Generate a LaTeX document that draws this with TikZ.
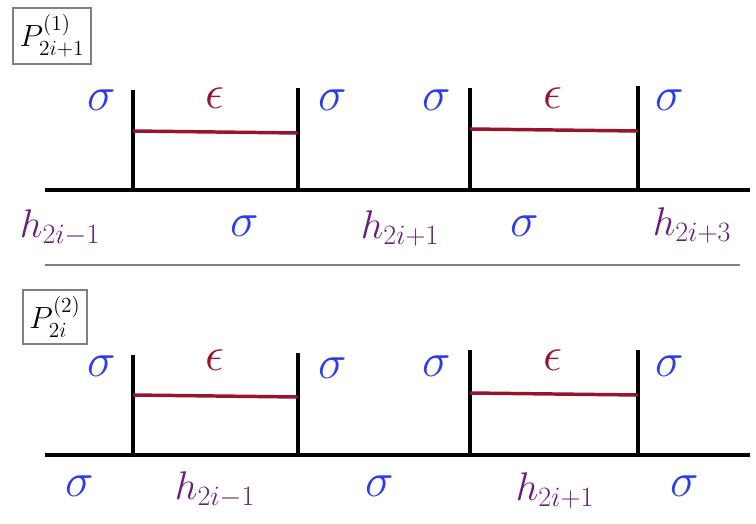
\documentclass[tikz,border=0pt]{standalone}
\usepackage{fix-cm}
\usepackage{amsmath}
\usepackage{xcolor}
\usetikzlibrary{arrows.meta}
\definecolor{sigblue}{RGB}{45,60,235}
\definecolor{epsred}{RGB}{150,20,45}
\definecolor{hpurple}{RGB}{105,30,125}
\tikzset{
  sig/.style={text=sigblue, font=\fontsize{36}{40}\selectfont},
  eps/.style={text=epsred, font=\fontsize{36}{40}\selectfont},
  hlab/.style={text=hpurple, font=\fontsize{30}{34}\selectfont},
  pbox/.style={draw=gray, line width=1.8pt, inner sep=5pt, font=\fontsize{23}{27}\selectfont},
  wall/.style={line width=3pt},
  bond/.style={epsred, line width=2.6pt}
}
\begin{document}
\begin{tikzpicture}[x=0.75pt, y=-0.75pt]
    \useasboundingbox (0,0) rectangle (756,524);
    % upper row
    \node[pbox] (p1) at (52,36) {$P^{(1)}_{2i+1}$};
    \coordinate (u0) at (45,190);
    \coordinate (u1) at (750,190);
    \draw[wall] (u0) -- (u1);
    \coordinate (ua) at (133,190); \coordinate (uat) at (133,90);
    \coordinate (ub) at (298,190); \coordinate (ubt) at (298,88);
    \coordinate (uc) at (470,190); \coordinate (uct) at (470,88);
    \coordinate (ud) at (638,190); \coordinate (udt) at (638,86);
    \draw[wall] (ua) -- (uat);
    \draw[wall] (ub) -- (ubt);
    \draw[wall] (uc) -- (uct);
    \draw[wall] (ud) -- (udt);
    \coordinate (ue1) at (133,131); \coordinate (ue2) at (298,133);
    \coordinate (ue3) at (470,129); \coordinate (ue4) at (638,131);
    \draw[bond] (ue1) -- (ue2);
    \draw[bond] (ue3) -- (ue4);
    \node[sig] (us1) at (102,100) {$\sigma$};
    \node[eps] (ue1l) at (215,98) {$\epsilon$};
    \node[sig] (us2) at (333,100) {$\sigma$};
    \node[sig] (us3) at (437,100) {$\sigma$};
    \node[eps] (ue2l) at (553,98) {$\epsilon$};
    \node[sig] (us4) at (670,100) {$\sigma$};
    \node[hlab] (uh1) at (60,228) {$h_{2i-1}$};
    \node[sig] (us5) at (245,226) {$\sigma$};
    \node[hlab] (uh2) at (400,228) {$h_{2i+1}$};
    \node[sig] (us6) at (525,226) {$\sigma$};
    \node[hlab] (uh3) at (692,225) {$h_{2i+3}$};
    % separator
    \coordinate (m0) at (45,265);
    \coordinate (m1) at (740,265);
    \draw[gray, line width=1.5pt] (m0) -- (m1);
    % lower row
    \node[pbox] (p2) at (55,317) {$P^{(2)}_{2i}$};
    \coordinate (l0) at (45,455);
    \coordinate (l1) at (750,455);
    \draw[wall] (l0) -- (l1);
    \coordinate (la) at (133,455); \coordinate (lat) at (133,355);
    \coordinate (lb) at (298,455); \coordinate (lbt) at (298,353);
    \coordinate (lc) at (470,455); \coordinate (lct) at (470,350);
    \coordinate (ld) at (638,455); \coordinate (ldt) at (638,350);
    \draw[wall] (la) -- (lat);
    \draw[wall] (lb) -- (lbt);
    \draw[wall] (lc) -- (lct);
    \draw[wall] (ld) -- (ldt);
    \coordinate (le1) at (133,395); \coordinate (le2) at (298,397);
    \coordinate (le3) at (470,393); \coordinate (le4) at (638,395);
    \draw[bond] (le1) -- (le2);
    \draw[bond] (le3) -- (le4);
    \node[sig] (ls1) at (102,366) {$\sigma$};
    \node[eps] (le1l) at (215,360) {$\epsilon$};
    \node[sig] (ls2) at (333,368) {$\sigma$};
    \node[sig] (ls3) at (437,366) {$\sigma$};
    \node[eps] (le2l) at (553,360) {$\epsilon$};
    \node[sig] (ls4) at (670,366) {$\sigma$};
    \node[sig] (ls5) at (80,486) {$\sigma$};
    \node[hlab] (lh1) at (215,490) {$h_{2i-1}$};
    \node[sig] (ls6) at (380,486) {$\sigma$};
    \node[hlab] (lh2) at (555,490) {$h_{2i+1}$};
    \node[sig] (ls7) at (685,486) {$\sigma$};
\end{tikzpicture}
\end{document}
